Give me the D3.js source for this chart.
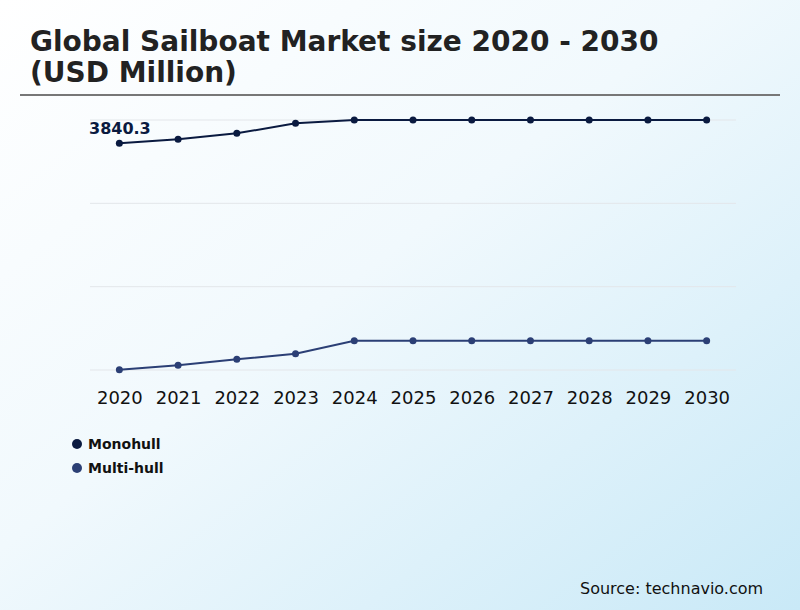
<!DOCTYPE html>
<html>
<head>
<meta charset="utf-8">
<script src="https://cdn.jsdelivr.net/npm/d3@7"></script>
<style>
  body { margin: 0; }
  svg { display: block; font-family: "DejaVu Sans", sans-serif; }
</style>
</head>
<body>
<div id="chart"></div>
<script>
// Data
const years = ["2020", "2021", "2022", "2023", "2024", "2025", "2026", "2027", "2028", "2029", "2030"];
const monohull = [3840.3, 3888, 3960, 4080, 4120, 4120, 4120, 4120, 4120, 4120, 4120];
const multihull = [1124, 1176, 1248, 1316, 1472, 1472, 1472, 1472, 1472, 1472, 1472];
const gridValues = [1120, 2120, 3120, 4120];
const seriesNames = ["Monohull", "Multi-hull"];
const seriesColors = ["#0a1a40", "#2b3f75"];

const width = 800;
const height = 610;

const svg = d3
  .select("#chart")
  .append("svg")
  .attr("width", width)
  .attr("height", height);

// Background gradient
const grad = svg
  .append("defs")
  .append("linearGradient")
  .attr("id", "bg")
  .attr("x1", "0%")
  .attr("y1", "0%")
  .attr("x2", "100%")
  .attr("y2", "100%");
grad.append("stop").attr("offset", "0%").attr("stop-color", "#ffffff");
grad.append("stop").attr("offset", "45%").attr("stop-color", "#f1f9fd");
grad.append("stop").attr("offset", "100%").attr("stop-color", "#c9e9f7");
svg.append("rect").attr("width", width).attr("height", height).attr("fill", "url(#bg)");

// Title
const title = svg
  .append("text")
  .attr("x", 30)
  .attr("font-size", 28)
  .attr("font-weight", "bold")
  .attr("fill", "#222");
title.append("tspan").attr("x", 30).attr("y", 51).text("Global Sailboat Market size 2020 - 2030");
title.append("tspan").attr("x", 30).attr("y", 82).text("(USD Million)");

svg
  .append("line")
  .attr("x1", 20)
  .attr("x2", 780)
  .attr("y1", 95)
  .attr("y2", 95)
  .attr("stroke", "#777")
  .attr("stroke-width", 2);

// Scales
const x = d3.scalePoint().domain(years).range([90, 736]).padding(0.5);
const y = d3.scaleLinear().domain([1120, 4120]).range([370, 120]);

// Gridlines
svg
  .append("g")
  .selectAll("line")
  .data(gridValues)
  .join("line")
  .attr("x1", 90)
  .attr("x2", 736)
  .attr("y1", (d) => y(d))
  .attr("y2", (d) => y(d))
  .attr("stroke", "#e3e6ea")
  .attr("stroke-width", 1);

// X axis labels
const xAxis = svg
  .append("g")
  .attr("transform", "translate(0,370)")
  .call(d3.axisBottom(x).tickSize(0).tickPadding(21));
xAxis.select(".domain").remove();
xAxis
  .selectAll("text")
  .attr("font-size", 18)
  .attr("font-family", "DejaVu Sans, sans-serif")
  .attr("fill", "#111");

// Lines and points
const line = d3
  .line()
  .x((d, i) => x(years[i]))
  .y((d) => y(d));

[monohull, multihull].forEach((values, s) => {
  const g = svg.append("g");
  g.append("path")
    .datum(values)
    .attr("d", line)
    .attr("fill", "none")
    .attr("stroke", seriesColors[s])
    .attr("stroke-width", 2);
  g.selectAll("circle")
    .data(values)
    .join("circle")
    .attr("cx", (d, i) => x(years[i]))
    .attr("cy", (d) => y(d))
    .attr("r", 3.5)
    .attr("fill", seriesColors[s]);
});

// Value label on first monohull point
svg
  .append("text")
  .attr("x", 89)
  .attr("y", 134)
  .attr("font-size", 16)
  .attr("font-weight", "bold")
  .attr("fill", seriesColors[0])
  .text(monohull[0]);

// Legend
const legend = svg
  .append("g")
  .selectAll("g")
  .data(seriesNames)
  .join("g")
  .attr("transform", (d, i) => `translate(77,${444 + i * 24})`);
legend
  .append("circle")
  .attr("r", 5)
  .attr("fill", (d, i) => seriesColors[i]);
legend
  .append("text")
  .attr("x", 11)
  .attr("dy", "0.35em")
  .attr("font-size", 14)
  .attr("font-weight", "bold")
  .attr("fill", "#111")
  .text((d) => d);

// Source
svg
  .append("text")
  .attr("x", 580)
  .attr("y", 594)
  .attr("font-size", 16)
  .attr("fill", "#111")
  .text("Source: technavio.com");
</script>
</body>
</html>
